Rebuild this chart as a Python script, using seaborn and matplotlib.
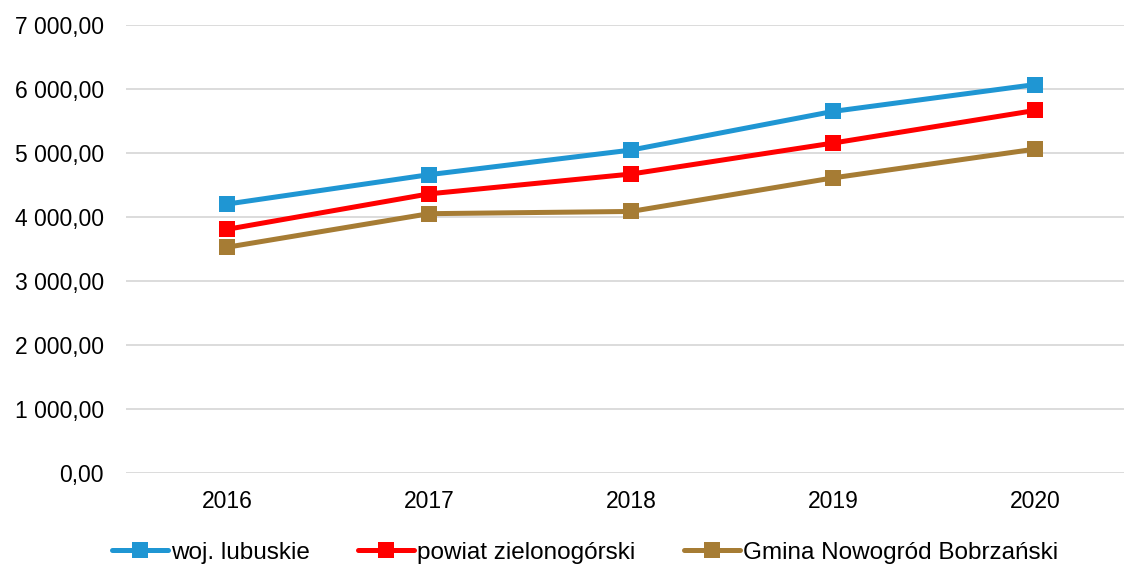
import pandas as pd
import seaborn as sns
import matplotlib.pyplot as plt
from matplotlib.ticker import FuncFormatter

years = ['2016', '2017', '2018', '2019', '2020']
woj = [4205, 4665, 5050, 5655, 6075]
powiat = [3810, 4365, 4675, 5160, 5670]
gmina = [3530, 4055, 4090, 4615, 5065]
labels = ['woj. lubuskie', 'powiat zielonogórski', 'Gmina Nowogród Bobrzański']
colors = ['#1F96D3', '#FF0000', '#A67C34']

df = pd.DataFrame({'rok': years * 3,
                   'wartosc': woj + powiat + gmina,
                   'seria': [labels[0]] * 5 + [labels[1]] * 5 + [labels[2]] * 5})

sns.set_style('white')
plt.rcParams['font.family'] = ['Liberation Sans', 'DejaVu Sans']
plt.rcParams['text.color'] = 'black'
plt.rcParams['xtick.color'] = 'black'
plt.rcParams['ytick.color'] = 'black'

fig, ax = plt.subplots(figsize=(11.24, 5.65), dpi=100)
sns.lineplot(data=df, x='rok', y='wartosc', hue='seria', palette=colors,
             marker='s', markersize=11, markeredgewidth=0, linewidth=3.6,
             sort=False, ax=ax)

ax.set_ylim(0, 7000)
ax.set_yticks(range(0, 7001, 1000))
ax.set_xlim(-0.5, 4.44)
ax.yaxis.set_major_formatter(FuncFormatter(
    lambda v, p: '{:,.2f}'.format(v).replace(',', ' ').replace('.', ',')))
ax.grid(axis='y', color='#D9D9D9', linewidth=1.3)
ax.set_axisbelow(True)
for s in ax.spines.values():
    s.set_visible(False)
ax.tick_params(axis='both', length=0, labelsize=16.5)
ax.tick_params(axis='y', pad=16)
ax.tick_params(axis='x', pad=12)
ax.set_xlabel('')
ax.set_ylabel('')

h, l = ax.get_legend_handles_labels()
ax.legend(h, l, loc='center', bbox_to_anchor=(0.46, -0.178), ncol=3,
          frameon=False, fontsize=17.5, handlelength=2.3, handletextpad=0.12,
          columnspacing=2.0)

fig.subplots_adjust(left=0.112, right=1.0, top=0.955, bottom=0.163)
fig.savefig('out.png', dpi=100)
